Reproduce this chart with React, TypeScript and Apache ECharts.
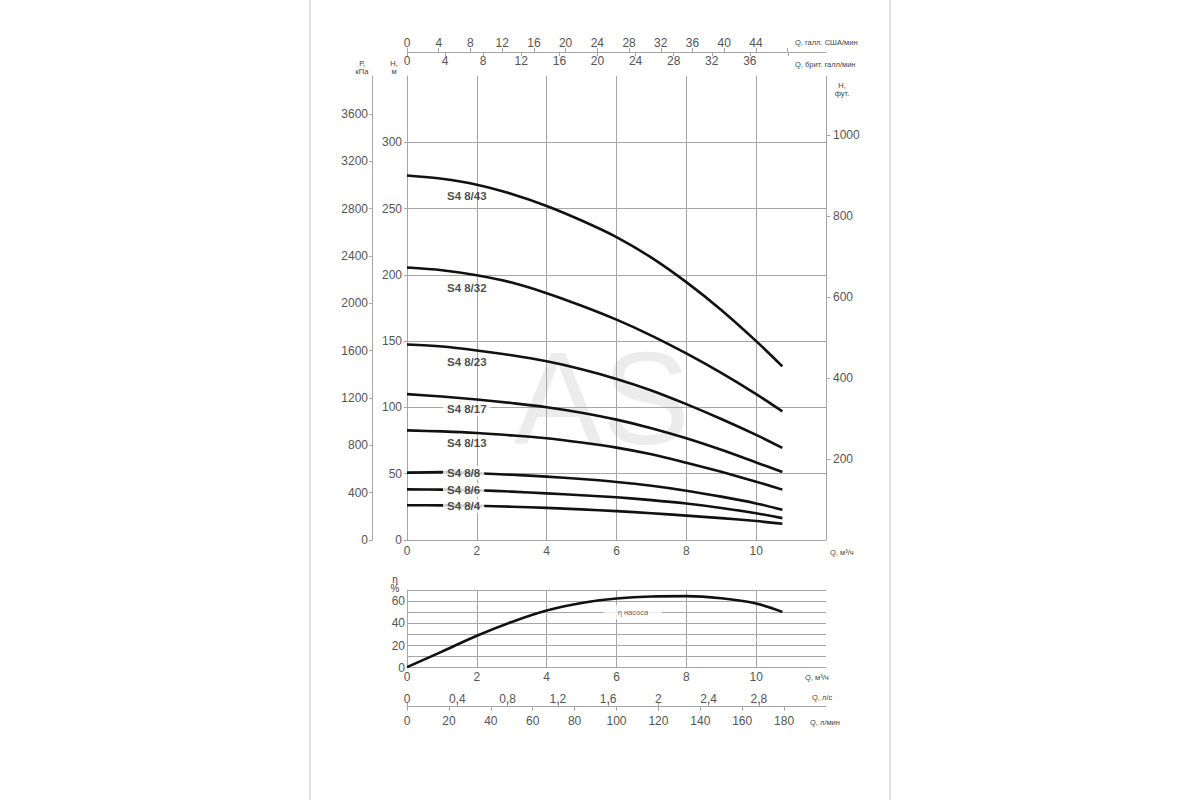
import React, { useEffect, useRef } from "react";
import * as echarts from "echarts";

const FONT = '"Liberation Sans", Arial, "DejaVu Sans", sans-serif';

// Flow, m³/h
const flowM3h = [0, 1, 2, 3, 4, 5, 6, 7, 8, 9, 10, 10.75];

const pumpModels = ["S4 8/43", "S4 8/32", "S4 8/23", "S4 8/17", "S4 8/13", "S4 8/8", "S4 8/6", "S4 8/4"];

// Head, m
const headS4_8_43 = [275, 272.5, 268, 261, 252, 241, 228.5, 213, 194.5, 173.5, 150, 131];
const headS4_8_32 = [205.5, 203.5, 199.7, 194.2, 186.2, 176.7, 166.2, 154.2, 140.7, 126, 110, 97];
const headS4_8_23 = [147.5, 146, 143, 139.3, 134.8, 128.8, 121.5, 112.8, 102.5, 91.3, 79.3, 69.5];
const headS4_8_17 = [110, 108.2, 106, 103.3, 100.2, 96, 90.8, 84.3, 76.7, 68, 58.5, 51.3];
const headS4_8_13 = [82.7, 81.9, 80.7, 78.9, 76.7, 73.5, 69.7, 64.7, 58.3, 51.4, 44, 38];
const headS4_8_8 = [50.8, 51.2, 50.3, 49.2, 47.8, 46, 43.8, 40.9, 37.2, 32.7, 27.6, 22.8];
const headS4_8_6 = [38.2, 38, 37.5, 36.5, 35.2, 33.8, 32.2, 30.1, 27.5, 24.2, 20.2, 16.5];
const headS4_8_4 = [26.2, 26.1, 25.8, 25.1, 24.2, 23.1, 21.8, 20.2, 18.4, 16.5, 14.3, 12.2];

// Pump efficiency, %
const efficiencyPct = [0.5, 14.5, 28.8, 41.2, 51.5, 58.3, 62.3, 64.2, 64.5, 62.5, 57.8, 50.3];

// Tick labels
const qTicks = [0, 2, 4, 6, 8, 10];
const headTicksM = [0, 50, 100, 150, 200, 250, 300];
const pressureTicksKPa = [0, 400, 800, 1200, 1600, 2000, 2400, 2800, 3200, 3600];
const headTicksFt = [200, 400, 600, 800, 1000];
const usGpmLabels = [0, 4, 8, 12, 16, 20, 24, 28, 32, 36, 40, 44];
const usGpmTicks = [0, 4, 8, 12, 16, 20, 24, 28, 32, 36, 40, 44, 48];
const ukGpmLabels = [0, 4, 8, 12, 16, 20, 24, 28, 32, 36];
const ukGpmTicks = [0, 4, 8, 12, 16, 20, 24, 28, 32, 36, 40];
const effTicks = [0, 20, 40, 60];
const lpsLabels = [0, 0.4, 0.8, 1.2, 1.6, 2, 2.4, 2.8];
const lpmLabels = [0, 20, 40, 60, 80, 100, 120, 140, 160, 180];

const pumpHeads = [headS4_8_43, headS4_8_32, headS4_8_23, headS4_8_17, headS4_8_13, headS4_8_8, headS4_8_6, headS4_8_4];

// axis ranges
const Q_MAX = 12;
const H_MAX = 350;
const KPA_MAX = 3920;
const FT_MAX = 1145;
const US_MAX = Q_MAX * 4.40287;
const UK_MAX = Q_MAX * 3.66615;
const LPS_MAX = Q_MAX / 3.6;
const LPM_MAX = (Q_MAX * 1000) / 60;

// label styling
const labelAnchorQ = 1.03;
const labelRefQ = 1.6;
const labelDy = [13.6, 14.5, 13.3, 11, 10.5, 0, 0, 0];
const labelBg = [false, false, false, true, false, true, true, true];

function headAt(arr: number[], q: number) {
  for (let i = 0; i < flowM3h.length - 1; i++) {
    if (q >= flowM3h[i] && q <= flowM3h[i + 1]) {
      const t = (q - flowM3h[i]) / (flowM3h[i + 1] - flowM3h[i]);
      return arr[i] + t * (arr[i + 1] - arr[i]);
    }
  }
  return arr[arr.length - 1];
}

const GRAY = "#a6a6a6";
const LABEL = "#555";
const plain = (v: number) => String(Math.round(v * 100) / 100);
const baseLabel = { fontFamily: FONT, fontSize: 12, color: LABEL, formatter: plain };

function unitText(text: string, x: number, y: number, align: string, fontSize = 7.5, lineHeight = 8) {
  return {
    type: "text",
    x,
    y,
    silent: true,
    style: {
      text,
      fontFamily: FONT,
      fontSize,
      lineHeight,
      fill: "#444",
      textAlign: align,
      textVerticalAlign: "middle",
    },
  };
}

function buildOption() {
  const lineSeries = pumpHeads.map((arr, i) => ({
    type: "line",
    name: pumpModels[i],
    xAxisIndex: 0,
    yAxisIndex: 0,
    data: flowM3h.map((q, j) => [q, arr[j]]),
    smooth: 0.3,
    symbol: "none",
    silent: true,
    z: 3,
    lineStyle: { color: "#111", width: 2.6 },
  }));

  const labelSeries = {
    type: "scatter",
    xAxisIndex: 0,
    yAxisIndex: 0,
    symbolSize: 0,
    silent: true,
    z: 6,
    data: pumpModels.map((name, i) => ({
      value: [labelAnchorQ, headAt(pumpHeads[i], labelRefQ)],
      label: {
        show: true,
        formatter: name,
        position: "right",
        distance: 0,
        offset: [0, labelDy[i]],
        padding: [1, 4, 1, 4],
        backgroundColor: labelBg[i] ? "#fff" : "transparent",
        fontFamily: FONT,
        fontWeight: "bold",
        fontSize: 11.5,
        color: "#1c1c1c",
      },
    })),
  };

  const effSeries = {
    type: "line",
    xAxisIndex: 3,
    yAxisIndex: 3,
    data: flowM3h.map((q, j) => [q, efficiencyPct[j]]),
    smooth: 0.3,
    symbol: "none",
    silent: true,
    z: 3,
    lineStyle: { color: "#111", width: 2.6 },
  };

  const effLabel = {
    type: "scatter",
    xAxisIndex: 3,
    yAxisIndex: 3,
    symbolSize: 0,
    silent: true,
    z: 6,
    data: [
      {
        value: [6.47, 50],
        label: {
          show: true,
          formatter: "η насоса",
          position: "inside",
          padding: [3, 14, 3, 14],
          backgroundColor: "#fff",
          fontFamily: FONT,
          fontSize: 7.5,
          color: "#333",
        },
      },
    ],
  };

  return {
    animation: false,
    backgroundColor: "#fff",
    grid: [
      { left: 407, top: 76, width: 419, height: 464 },
      { left: 407, top: 590, width: 419, height: 77.7 },
    ],
    xAxis: [
      {
        type: "value",
        gridIndex: 0,
        position: "bottom",
        min: 0,
        max: Q_MAX,
        interval: 2,
        axisLine: { show: true, onZero: false, lineStyle: { color: GRAY, width: 1 } },
        axisTick: { show: false },
        axisLabel: { ...baseLabel, margin: 5, customValues: qTicks },
        splitLine: { show: true, lineStyle: { color: GRAY, width: 1 } },
      },
      {
        type: "value",
        gridIndex: 0,
        position: "top",
        offset: 24,
        min: 0,
        max: US_MAX,
        axisLine: { show: true, onZero: false, lineStyle: { color: GRAY, width: 1 } },
        axisTick: { show: true, length: 4, customValues: usGpmTicks, lineStyle: { color: GRAY } },
        axisLabel: { ...baseLabel, margin: 3, customValues: usGpmLabels },
        splitLine: { show: false },
      },
      {
        type: "value",
        gridIndex: 0,
        position: "top",
        offset: 24,
        min: 0,
        max: UK_MAX,
        axisLine: { show: false, onZero: false },
        axisTick: { show: true, inside: true, length: 4, customValues: ukGpmTicks, lineStyle: { color: GRAY } },
        axisLabel: { ...baseLabel, inside: true, margin: 3, customValues: ukGpmLabels },
        splitLine: { show: false },
      },
      {
        type: "value",
        gridIndex: 1,
        position: "bottom",
        min: 0,
        max: Q_MAX,
        interval: 2,
        axisLine: { show: true, onZero: false, lineStyle: { color: GRAY, width: 1 } },
        axisTick: { show: false },
        axisLabel: { ...baseLabel, margin: 3, customValues: qTicks },
        splitLine: { show: true, showMaxLine: false, lineStyle: { color: GRAY, width: 1 } },
      },
      {
        type: "value",
        gridIndex: 1,
        position: "bottom",
        offset: 39,
        min: 0,
        max: LPS_MAX,
        axisLine: { show: true, onZero: false, lineStyle: { color: GRAY, width: 1 } },
        axisTick: { show: true, inside: true, length: 4, customValues: lpsLabels, lineStyle: { color: GRAY } },
        axisLabel: {
          ...baseLabel,
          inside: true,
          margin: 2,
          customValues: lpsLabels,
          formatter: (v: number) => String(Math.round(v * 10) / 10).replace(".", ","),
        },
        splitLine: { show: false },
      },
      {
        type: "value",
        gridIndex: 1,
        position: "bottom",
        offset: 39,
        min: 0,
        max: LPM_MAX,
        axisLine: { show: false, onZero: false },
        axisTick: { show: true, length: 4, customValues: lpmLabels, lineStyle: { color: GRAY } },
        axisLabel: { ...baseLabel, margin: 8, customValues: lpmLabels },
        splitLine: { show: false },
      },
    ],
    yAxis: [
      {
        type: "value",
        gridIndex: 0,
        position: "left",
        min: 0,
        max: H_MAX,
        interval: 50,
        axisLine: { show: true, onZero: false, lineStyle: { color: GRAY, width: 1 } },
        axisTick: { show: true, length: 3, customValues: headTicksM, lineStyle: { color: GRAY } },
        axisLabel: { ...baseLabel, margin: 5, customValues: headTicksM },
        splitLine: { show: true, lineStyle: { color: GRAY, width: 1 } },
      },
      {
        type: "value",
        gridIndex: 0,
        position: "left",
        offset: 35,
        min: 0,
        max: KPA_MAX,
        axisLine: { show: true, onZero: false, lineStyle: { color: GRAY, width: 1 } },
        axisTick: { show: true, length: 3, customValues: pressureTicksKPa, lineStyle: { color: GRAY } },
        axisLabel: { ...baseLabel, margin: 4, customValues: pressureTicksKPa },
        splitLine: { show: false },
      },
      {
        type: "value",
        gridIndex: 0,
        position: "right",
        min: 0,
        max: FT_MAX,
        axisLine: { show: false, onZero: false },
        axisTick: { show: true, length: 4, customValues: headTicksFt, lineStyle: { color: GRAY } },
        axisLabel: { ...baseLabel, margin: 7, customValues: headTicksFt },
        splitLine: { show: false },
      },
      {
        type: "value",
        gridIndex: 1,
        position: "left",
        min: 0,
        max: 70,
        interval: 10,
        axisLine: { show: true, onZero: false, lineStyle: { color: GRAY, width: 1 } },
        axisTick: { show: false },
        axisLabel: { ...baseLabel, margin: 2, customValues: effTicks },
        splitLine: { show: true, lineStyle: { color: GRAY, width: 1 } },
      },
    ],
    graphic: {
      elements: [
        { type: "rect", silent: true, shape: { x: 309, y: 0, width: 2, height: 800 }, style: { fill: "#e3e3e3" } },
        { type: "rect", silent: true, shape: { x: 889, y: 0, width: 2, height: 800 }, style: { fill: "#e3e3e3" } },
        {
          type: "text",
          x: 602,
          y: 398,
          z: -10,
          silent: true,
          style: {
            text: "AS",
            fontFamily: '"Liberation Sans", Arial, sans-serif',
            fontSize: 132,
            fill: "#ececec",
            textAlign: "center",
            textVerticalAlign: "middle",
          },
        },
        unitText("Q, галл. США/мин", 795, 42, "left"),
        unitText("Q, брит. галл/мин", 795, 64, "left"),
        unitText("Р,\nкПа", 362, 67, "center"),
        unitText("H,\nм", 394, 67, "center"),
        unitText("H,\nфут.", 842, 89, "center"),
        unitText("Q, м³/ч", 830, 552, "left"),
        unitText("η\n%", 395, 584, "center", 10, 9),
        unitText("Q, м³/ч", 805, 677, "left"),
        unitText("Q, л/с", 812, 697, "left"),
        unitText("Q, л/мин", 810, 722, "left"),
      ],
    },
    series: [...lineSeries, labelSeries, effSeries, effLabel],
  };
}

export default function App() {
  const ref = useRef<HTMLDivElement>(null);
  useEffect(() => {
    if (!ref.current) return;
    const chart = echarts.init(ref.current, null, { renderer: "svg" });
    chart.setOption(buildOption() as any);
    return () => chart.dispose();
  }, []);
  return (
    <div
      ref={ref}
      style={{ position: "absolute", left: 0, top: 0, width: 1200, height: 800, background: "#fff" }}
    />
  );
}
